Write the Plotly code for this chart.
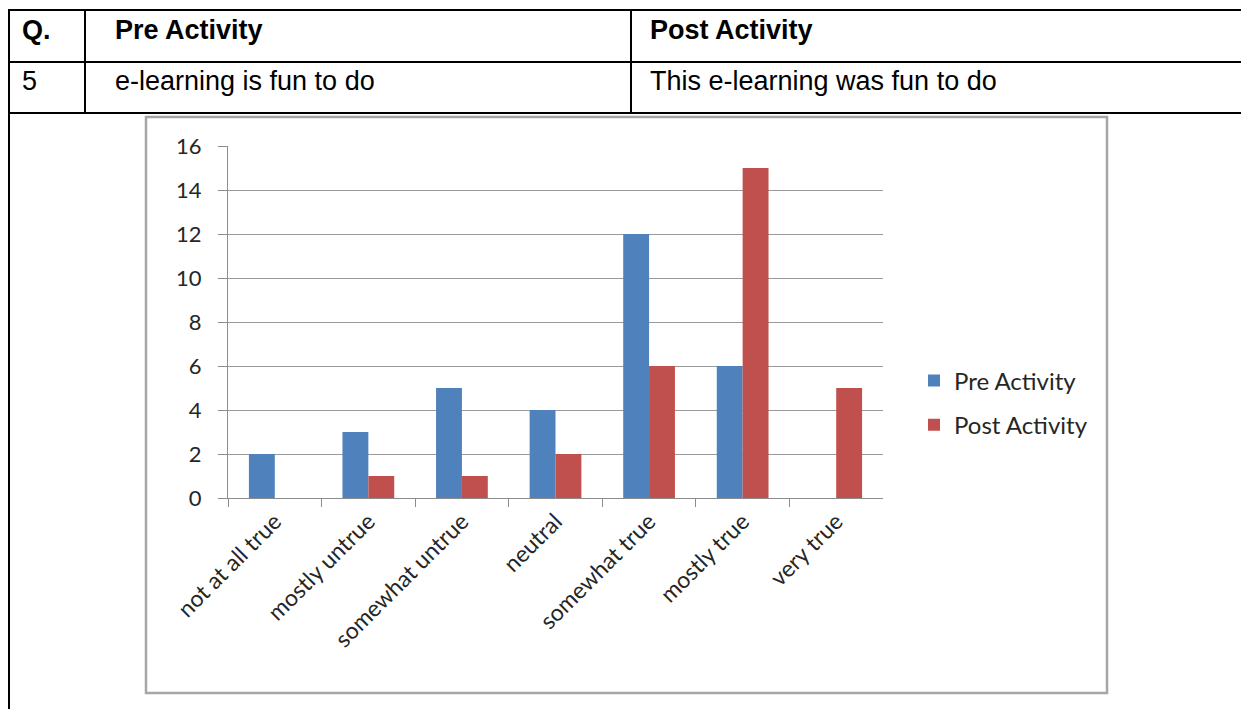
import plotly.graph_objects as go

# ---- data ----
categories = ["not at all true", "mostly untrue", "somewhat untrue", "neutral",
              "somewhat true", "mostly true", "very true"]
pre_activity = [2, 3, 5, 4, 12, 6, 0]
post_activity = [0, 1, 1, 2, 6, 15, 5]
y_ticks = [0, 2, 4, 6, 8, 10, 12, 14, 16]

header_cells = ["Q.", "Pre Activity", "Post Activity"]
row_cells = ["5", "e-learning is fun to do", "This e-learning was fun to do"]

W, H = 1241, 709


def px(x):
    return x / W


def py(y):
    return 1 - y / H


fig = go.Figure()
fig.add_trace(go.Bar(x=categories, y=pre_activity, name="Pre Activity",
                     marker=dict(color="#4F81BD", line=dict(width=0)),
                     legendgroup="a"))
fig.add_trace(go.Bar(x=categories, y=post_activity, name="Post Activity",
                     marker=dict(color="#C0504D", line=dict(width=0)),
                     legendgroup="b"))

x_tick_font = dict(family="Lato, Open Sans, sans-serif", size=23, color="#262626")
y_tick_font = dict(family="Lato, Open Sans, sans-serif", size=22, color="#262626")

fig.update_layout(
    width=W, height=H,
    margin=dict(l=0, r=0, t=0, b=0, pad=0),
    paper_bgcolor="white", plot_bgcolor="white",
    barmode="group", bargap=0.447, bargroupgap=0,
    xaxis=dict(domain=[px(228), px(883)], type="category", automargin=False,
               showline=True, linecolor="#8c8c8c", linewidth=1,
               ticks="outside", tickson="boundaries", ticklen=8,
               tickcolor="#8c8c8c", tickangle=-45, tickfont=x_tick_font,
               showgrid=False, fixedrange=True),
    yaxis=dict(domain=[py(498), py(146)], range=[0, 16], tickvals=y_ticks,
               automargin=False,
               showline=True, linecolor="#8c8c8c", linewidth=1,
               ticks="outside", ticklen=9, tickcolor="#8c8c8c",
               ticklabelstandoff=12,
               showgrid=True, gridcolor="#9a9a9a", gridwidth=1,
               zeroline=False, tickfont=y_tick_font, fixedrange=True),
    legend=dict(x=px(914), y=py(403), xanchor="left", yanchor="middle",
                font=dict(family="Lato, Open Sans, sans-serif", size=24, color="#262626"),
                tracegroupgap=10, itemwidth=30, bgcolor="rgba(0,0,0,0)"),
    showlegend=True,
)

shapes = []
# chart frame
shapes.append(dict(type="rect", xref="paper", yref="paper",
                   x0=px(146), x1=px(1107), y0=py(693), y1=py(117),
                   line=dict(color="#a6a6a6", width=2.5), fillcolor="rgba(0,0,0,0)",
                   layer="below"))
# table lines
for yy in [10, 62, 113]:
    shapes.append(dict(type="line", xref="paper", yref="paper",
                       x0=px(8), x1=1, y0=py(yy), y1=py(yy),
                       line=dict(color="black", width=2)))
shapes.append(dict(type="line", xref="paper", yref="paper",
                   x0=px(9), x1=px(9), y0=py(9), y1=0,
                   line=dict(color="black", width=2)))
for xx in [85, 631]:
    shapes.append(dict(type="line", xref="paper", yref="paper",
                       x0=px(xx), x1=px(xx), y0=py(10), y1=py(113),
                       line=dict(color="black", width=2)))
fig.update_layout(shapes=shapes)

col_x = [20, 113, 648]
annotations = []
for xx, t in zip(col_x, header_cells):
    annotations.append(dict(text="<b>%s</b>" % t, x=px(xx), y=py(30), xref="paper", yref="paper",
                            xanchor="left", yanchor="middle", showarrow=False,
                            font=dict(family="Liberation Sans, Arial, sans-serif", size=27, color="black")))
for xx, t in zip(col_x, row_cells):
    annotations.append(dict(text=t, x=px(xx), y=py(81), xref="paper", yref="paper",
                            xanchor="left", yanchor="middle", showarrow=False,
                            font=dict(family="Liberation Sans, Arial, sans-serif", size=27, color="black")))
fig.update_layout(annotations=annotations)

fig.write_html("out.html")
